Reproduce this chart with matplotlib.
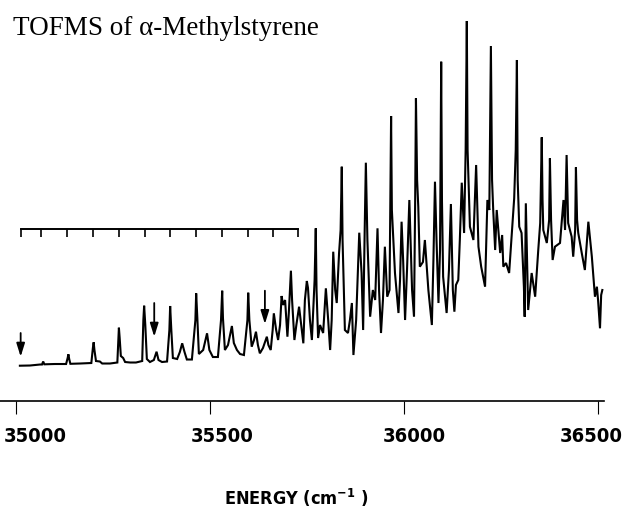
import matplotlib
matplotlib.use("Agg")
import matplotlib.pyplot as plt
from matplotlib.transforms import ScaledTranslation

# spectrum trace (energy in cm-1, signal in arbitrary units)
energy = [35011, 35037, 35063, 35068, 35071, 35074, 35101, 35130, 35134, 35136,
          35138, 35141, 35166, 35195, 35199, 35201, 35203, 35207, 35217, 35223,
          35243, 35262, 35265, 35266, 35268, 35271, 35277, 35282, 35295, 35310,
          35326, 35329, 35331, 35334, 35338, 35346, 35356, 35363, 35368, 35377,
          35390, 35396, 35398, 35401, 35405, 35416, 35423, 35429, 35435, 35441,
          35454, 35463, 35465, 35468, 35472, 35483, 35493, 35499, 35508, 35521,
          35529, 35532, 35534, 35539, 35547, 35557, 35562, 35570, 35578, 35588,
          35597, 35599, 35602, 35608, 35614, 35619, 35624, 35629, 35637, 35647,
          35651, 35657, 35662, 35665, 35671, 35676, 35681, 35685, 35689, 35694,
          35700, 35704, 35709, 35712, 35718, 35723, 35730, 35734, 35741, 35745,
          35750, 35753, 35758, 35763, 35770, 35773, 35775, 35779, 35784, 35792,
          35799, 35805, 35810, 35814, 35818, 35823, 35827, 35833, 35837, 35840,
          35842, 35848, 35856, 35861, 35866, 35870, 35877, 35885, 35891, 35895,
          35899, 35902, 35906, 35913, 35920, 35926, 35932, 35936, 35941, 35946,
          35951, 35957, 35963, 35965, 35967, 35969, 35977, 35986, 35990, 35994,
          35998, 36003, 36008, 36014, 36021, 36026, 36029, 36031, 36034, 36037,
          36041, 36049, 36054, 36063, 36072, 36076, 36080, 36084, 36089, 36093,
          36096, 36098, 36101, 36110, 36116, 36121, 36126, 36130, 36134, 36140,
          36144, 36149, 36155, 36159, 36162, 36164, 36170, 36179, 36186, 36192,
          36199, 36209, 36215, 36220, 36224, 36227, 36230, 36235, 36239, 36248,
          36253, 36256, 36263, 36271, 36278, 36284, 36288, 36291, 36293, 36297,
          36303, 36309, 36311, 36314, 36320, 36329, 36338, 36346, 36351, 36353,
          36355, 36357, 36359, 36368, 36374, 36376, 36379, 36383, 36389, 36402,
          36411, 36415, 36419, 36423, 36432, 36436, 36441, 36443, 36446, 36449,
          36458, 36466, 36475, 36484, 36492, 36497, 36500, 36505, 36508, 36511]

signal = [0.3, 0.5, 1.5, 1.5, 4.5, 1.7, 2, 2, 8, 11.7,
          7, 2.2, 2.5, 3, 18, 23.7, 16, 5, 4.5, 2.5,
          2.5, 3.5, 31, 38.3, 28, 10, 8, 4, 3.5, 3.5,
          5, 46, 60.3, 41, 7, 4, 6, 14.3, 6, 4,
          4.5, 36, 60, 36, 8, 7, 14, 22.7, 14, 6.5,
          6.5, 46, 72.7, 48, 12, 16, 32.7, 16, 9, 9,
          46, 75.3, 48, 16, 21, 40, 23, 16, 12, 11,
          46, 73.3, 46, 19.3, 26, 34.3, 21, 12.7, 18, 29.3,
          21, 16, 36, 52.7, 36, 26, 41, 70, 61, 66,
          29.3, 56, 95.3, 66, 26, 41, 59.3, 46, 22.7, 66,
          85, 78, 46, 26, 86, 137.7, 76, 28, 41, 33,
          77.7, 46, 16, 46, 114.3, 76, 63, 113, 136, 199.3,
          126, 36, 33, 46, 63, 11, 46, 133.3, 93, 36,
          136, 203.3, 126, 49.3, 76, 66, 137.7, 76, 33, 66,
          119.3, 69.3, 76, 166, 250, 156, 93, 53, 86, 144.3,
          106, 46, 96, 166, 76, 49.3, 166, 267.7, 186, 159.3,
          99.3, 104, 126, 76, 41, 106, 184.3, 126, 63, 116,
          304.3, 166, 89.3, 53, 96, 162, 76, 54.3, 81, 86,
          126, 183.3, 133, 216, 345, 216, 139.3, 126, 201, 119.3,
          99.3, 79.3, 166, 156, 320, 186, 156, 116, 156, 113,
          131, 99.3, 103, 93, 133, 167.7, 216, 306, 186, 139.3,
          133, 79.3, 49.3, 162.7, 56, 93, 69.3, 116, 143, 186,
          228.7, 166, 136, 123, 146, 207.7, 146, 106, 119.3, 123,
          166, 136, 211, 143, 129.3, 109.3, 136, 198.7, 146, 133,
          113, 96, 144.3, 109.3, 69.3, 79.3, 66, 37.7, 71, 76]

# progression comb above the low-energy bands
comb_positions = [35013, 35065, 35133, 35200, 35266, 35332, 35398, 35465,
                  35532, 35599, 35664, 35728]
comb_level = 136.7
comb_tick = 7.2

# marked bands (arrows): energy, arrow tail and head heights
arrow_energy = [35013, 35357, 35642]
arrow_top = [33, 63, 75.3]
arrow_tip = [9.3, 29.3, 42]

tick_values = [35000, 35500, 36000, 36500]
tick_labels = ["35000", "35500", "36000", "36500"]

fig = plt.figure(figsize=(6.23, 5.08), dpi=100)
ax = fig.add_axes([0, 0.2112, 0.9695, 0.7888])

ax.plot(energy, signal, color="black", lw=1.5, solid_joinstyle="miter")

# comb
ax.plot([comb_positions[0], comb_positions[-1]], [comb_level, comb_level],
        color="black", lw=1.4)
ax.vlines(comb_positions, comb_level - comb_tick, comb_level, color="black", lw=1.2)

# arrows
for e, top, tip in zip(arrow_energy, arrow_top, arrow_tip):
    ax.annotate("", xy=(e, tip), xytext=(e, top),
                arrowprops=dict(arrowstyle="-|>,head_length=0.8,head_width=0.25",
                                color="black", lw=1.3, shrinkA=0, shrinkB=0))

ax.set_xlim(34959.8, 36515.3)
ax.set_ylim(-34.7, 366)

for side in ["top", "left", "right"]:
    ax.spines[side].set_visible(False)
ax.spines["bottom"].set_linewidth(1.2)
ax.set_yticks([])

ax.set_xticks(tick_values)
ax.set_xticklabels(tick_labels, fontfamily="DejaVu Sans", fontweight="bold",
                   fontstretch="condensed", fontsize=14.5)
ax.tick_params(axis="x", direction="out", length=9, width=0.8, pad=10)

# the printed labels sit slightly off their ticks
label_shift = [20, 12, 10, -7]
for lab, dx in zip(ax.get_xticklabels(), label_shift):
    lab.set_transform(lab.get_transform() + ScaledTranslation(dx / 100, 0, fig.dpi_scale_trans))

fig.text(13 / 623, 1 - 35 / 508, "TOFMS of \u03b1-Methylstyrene",
         fontfamily="Liberation Serif", fontsize=19.5, va="baseline", ha="left")

plt.rcParams["mathtext.default"] = "regular"
fig.text(296 / 623, 3 / 508, "ENERGY (cm$^{-1}$ )", fontfamily="DejaVu Sans",
         fontweight="bold", fontstretch="condensed", fontsize=13,
         va="baseline", ha="center")

fig.savefig("out.png", dpi=100)
